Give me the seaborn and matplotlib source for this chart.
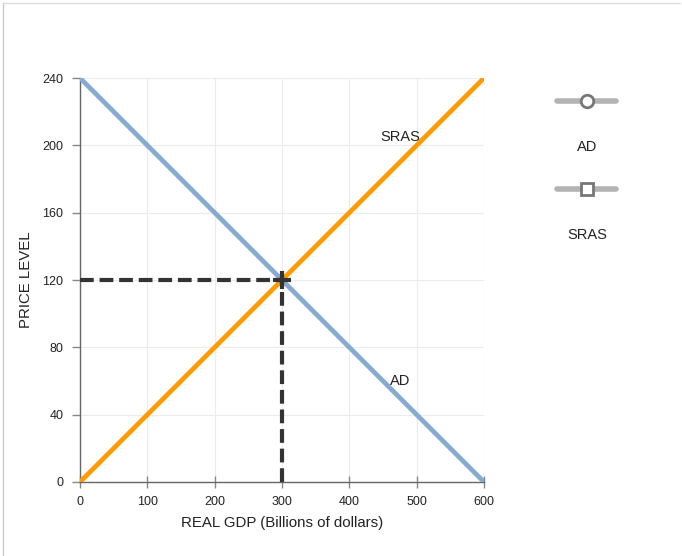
import matplotlib
matplotlib.use("Agg")
import matplotlib.pyplot as plt
import seaborn as sns
import pandas as pd
from matplotlib.lines import Line2D

# curve endpoints
ad_gdp = [0, 600]
ad_price = [240, 0]
sras_gdp = [0, 600]
sras_price = [0, 240]
eq_gdp = 300
eq_price = 120

x_ticks = [0, 100, 200, 300, 400, 500, 600]
y_ticks = [0, 40, 80, 120, 160, 200, 240]

sns.set_style("white")
plt.rcParams['font.family'] = ['Liberation Sans', 'DejaVu Sans']

fig = plt.figure(figsize=(6.82, 5.56), dpi=100)
ax = fig.add_axes([0.1173, 0.1331, 0.5924, 0.7266])

ad = pd.DataFrame({"gdp": ad_gdp, "price": ad_price})
sras = pd.DataFrame({"gdp": sras_gdp, "price": sras_price})

sns.lineplot(data=ad, x="gdp", y="price", ax=ax, color="#87a9d2", lw=3.4, zorder=3)
sns.lineplot(data=sras, x="gdp", y="price", ax=ax, color="#ff9a00", lw=3.4, zorder=3)

# equilibrium guides
dash = (0, (3.3, 1.4))
ax.plot([0, eq_gdp], [eq_price, eq_price], color="#333333", lw=3.0, ls=dash, zorder=4, dash_capstyle="butt")
ax.plot([eq_gdp, eq_gdp], [0, eq_price], color="#333333", lw=3.0, ls=dash, zorder=4, dash_capstyle="butt")
ax.plot([eq_gdp], [eq_price], marker="+", ms=13, mew=3, color="#333333", zorder=5)

ax.text(475, 205, "SRAS", ha="center", va="center", fontsize=10.5, color="#222222", zorder=6)
ax.text(475, 60, "AD", ha="center", va="center", fontsize=10.5, color="#222222", zorder=6)

ax.set_xlim(0, 600)
ax.set_ylim(0, 240)
ax.set_xticks(x_ticks)
ax.set_yticks(y_ticks)
ax.grid(True, color="#ececec", lw=0.8)
for s in ["top", "right"]:
    ax.spines[s].set_visible(False)
for s in ["left", "bottom"]:
    ax.spines[s].set_color("#666666")
    ax.spines[s].set_linewidth(1)
ax.tick_params(axis="both", bottom=True, left=True, width=1, color="#888888",
               labelsize=9, labelcolor="#222222")
ax.tick_params(axis="x", direction="inout", length=8, pad=6)
ax.tick_params(axis="y", direction="out", length=6, pad=6)
ax.set_xlabel("REAL GDP (Billions of dollars)", fontsize=10.8, color="#222222", labelpad=6)
ax.set_ylabel("PRICE LEVEL", fontsize=10.8, color="#222222", labelpad=7)

# legend drawn on the right
fig.add_artist(Line2D([557/682, 616/682], [1 - 101/556, 1 - 101/556], color="#b3b3b3", lw=4, transform=fig.transFigure))
fig.add_artist(Line2D([587/682], [1 - 101/556], marker="o", ms=9, mfc="white", mec="#777777", mew=2, transform=fig.transFigure))
fig.text(587/682, 1 - 147/556, "AD", ha="center", va="center", fontsize=10.5, color="#222222")
fig.add_artist(Line2D([557/682, 616/682], [1 - 189/556, 1 - 189/556], color="#b3b3b3", lw=4, transform=fig.transFigure))
fig.add_artist(Line2D([587/682], [1 - 189/556], marker="s", ms=8, mfc="white", mec="#777777", mew=2, transform=fig.transFigure))
fig.text(587/682, 1 - 235/556, "SRAS", ha="center", va="center", fontsize=10.5, color="#222222")

# outer frame lines
fig.add_artist(Line2D([3/682, 680/682], [1 - 2.5/556, 1 - 2.5/556], color="#dddddd", lw=1, transform=fig.transFigure))
fig.add_artist(Line2D([2.5/682, 2.5/682], [0, 1 - 2.5/556], color="#cccccc", lw=1, transform=fig.transFigure))

fig.savefig("out.png", dpi=100)
